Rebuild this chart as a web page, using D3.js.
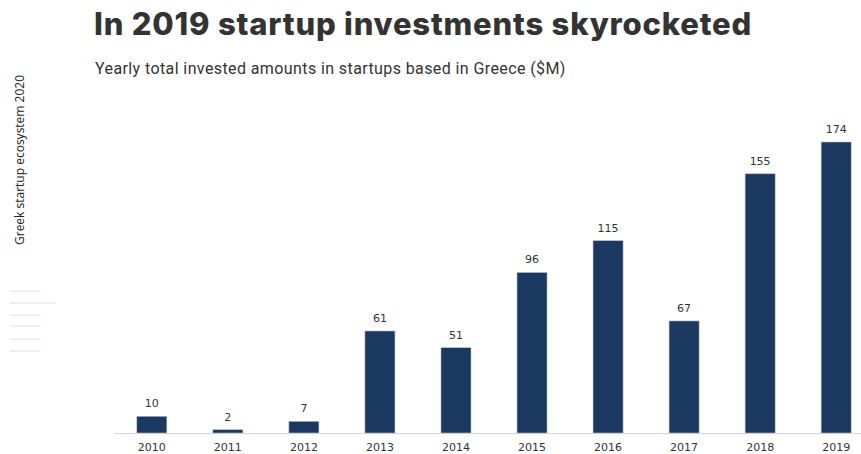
<!DOCTYPE html>
<html>
<head>
<meta charset="utf-8">
<script src="https://cdn.jsdelivr.net/npm/d3@7"></script>
<style>
  body { margin:0; background:#fff; }
  svg { display:block; }
</style>
</head>
<body>
<svg id="chart" width="861" height="454"></svg>
<script>
// data
var years = ["2010","2011","2012","2013","2014","2015","2016","2017","2018","2019"];
var amounts = [10, 2, 7, 61, 51, 96, 115, 67, 155, 174];

var width = 861, height = 454;

var svg = d3.select('#chart');

var x = d3.scaleBand()
    .domain(years)
    .range([114, 874])
    .paddingInner(0.605)
    .paddingOuter(0.3);

var y = d3.scaleLinear()
    .domain([0, 174])
    .range([433, 142]);

// title + subtitle
svg.append('text')
    .attr('x', 94).attr('y', 35)
    .attr('font-family', 'Inter, "Open Sans", sans-serif')
    .attr('font-weight', 800)
    .attr('font-size', 31)
    .attr('letter-spacing', 0.8)
    .attr('fill', '#333')
    .text('In 2019 startup investments skyrocketed');

svg.append('text')
    .attr('x', 95).attr('y', 74)
    .attr('font-family', 'Roboto, "Open Sans", sans-serif')
    .attr('font-size', 16)
    .attr('letter-spacing', 0.4)
    .attr('fill', '#333')
    .text('Yearly total invested amounts in startups based in Greece ($M)');

// left side label
svg.append('text')
    .attr('transform', 'translate(24,245) rotate(-90)')
    .attr('font-family', '"Open Sans", sans-serif')
    .attr('font-size', 12)
    .attr('fill', '#222')
    .text('Greek startup ecosystem 2020');

// little grey decoration lines
var deco = [{y:291, w:31}, {y:303, w:45}, {y:315, w:31}, {y:326, w:31}, {y:339, w:31}, {y:351, w:31}];
svg.selectAll('.deco')
  .data(deco)
  .enter().append('line')
    .attr('class', 'deco')
    .attr('x1', 10).attr('x2', function(d){ return 10 + d.w; })
    .attr('y1', function(d){ return d.y; }).attr('y2', function(d){ return d.y; })
    .attr('stroke', '#e2e2e2').attr('stroke-width', 1);

// baseline
svg.append('line')
    .attr('x1', 114).attr('x2', 861)
    .attr('y1', 433.5).attr('y2', 433.5)
    .attr('stroke', '#d4d4d4');

// bars
svg.selectAll('.bar')
  .data(amounts)
  .enter().append('rect')
    .attr('class', 'bar')
    .attr('x', function(d, i){ return x(years[i]); })
    .attr('width', x.bandwidth())
    .attr('y', function(d){ return y(d); })
    .attr('height', function(d){ return y(0) - y(d); })
    .attr('fill', '#1a3860')
    .attr('stroke', '#b8c0cc')
    .attr('stroke-width', 0.6);

// value labels
svg.selectAll('.val')
  .data(amounts)
  .enter().append('text')
    .attr('class', 'val')
    .attr('x', function(d, i){ return x(years[i]) + x.bandwidth() / 2; })
    .attr('y', function(d){ return y(d) - 9; })
    .attr('text-anchor', 'middle')
    .attr('font-family', '"DejaVu Sans", sans-serif')
    .attr('font-size', 11)
    .attr('fill', '#333')
    .text(function(d){ return d; });

// year axis
var axis = svg.append('g')
    .attr('transform', 'translate(0,433)')
    .call(d3.axisBottom(x).tickSize(0).tickPadding(10));
axis.select('.domain').remove();
axis.selectAll('text')
    .attr('font-family', '"DejaVu Sans", sans-serif')
    .attr('font-size', 11)
    .attr('fill', '#333');
</script>
</body>
</html>
